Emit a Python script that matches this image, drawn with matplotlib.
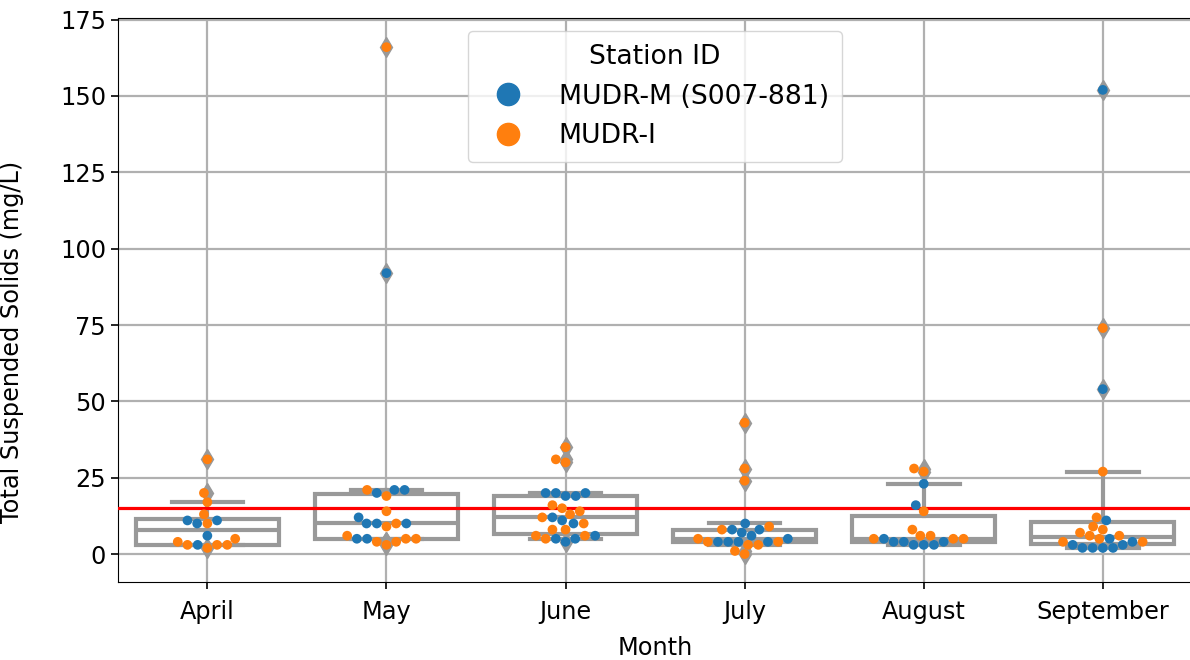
import numpy as np
import pandas as pd
import matplotlib
matplotlib.use("Agg")
import matplotlib.pyplot as plt
from matplotlib.lines import Line2D
import seaborn as sns

months = ["April", "May", "June", "July", "August", "September"]
stations = ["MUDR-M (S007-881)", "MUDR-I"]

# TSS samples (mg/L) per month, split by station
tss_mudr_m = {
    "April": [11, 10, 11, 6, 3],
    "May": [92, 21, 21, 20, 12, 10, 10, 10, 5, 5],
    "June": [20, 20, 20, 19, 19, 12, 11, 10, 6, 5, 5, 4],
    "July": [10, 8, 8, 7, 6, 5, 4, 4, 4, 4],
    "August": [23, 16, 5, 4, 4, 4, 3, 3, 3],
    "September": [152, 54, 11, 5, 4, 3, 3, 2, 2, 2, 2],
}
tss_mudr_i = {
    "April": [31, 20, 17, 13, 10, 5, 3, 3, 3, 4, 2],
    "May": [166, 21, 19, 14, 10, 9, 6, 5, 5, 4, 4, 3],
    "June": [35, 31, 30, 16, 15, 14, 13, 12, 10, 8, 8, 6, 6, 5],
    "July": [43, 28, 24, 9, 8, 5, 4, 4, 3, 3, 1, 0],
    "August": [28, 27, 14, 8, 6, 6, 5, 5, 5],
    "September": [74, 27, 12, 9, 8, 7, 6, 6, 5, 4, 4],
}
tss_limit = 15

rows = []
for st, table in zip(stations, [tss_mudr_m, tss_mudr_i]):
    for m in months:
        for v in table[m]:
            rows.append({"Month": m, "TSS": v, "Station ID": st})
df = pd.DataFrame(rows)

plt.rcParams["font.size"] = 17.3

fig = plt.figure(figsize=(11.9, 6.6), dpi=100)
ax = fig.add_axes([0.099, 0.118, 0.903, 0.855])

gray = "#999999"
box_data = [df.loc[df.Month == m, "TSS"].values for m in months]
ax.boxplot(box_data, positions=range(len(months)), widths=0.8, whis=(10, 90),
           patch_artist=True,
           boxprops=dict(facecolor="white", edgecolor=gray, lw=3),
           medianprops=dict(color=gray, lw=3),
           whiskerprops=dict(color=gray, lw=3),
           capprops=dict(color=gray, lw=3),
           flierprops=dict(marker="d", markerfacecolor=gray,
                           markeredgecolor=gray, markersize=10))

ax.axhline(tss_limit, color="red", lw=2.3, zorder=3)

sns.swarmplot(data=df, x="Month", y="TSS", hue="Station ID", order=months,
              hue_order=stations, palette=["#1f77b4", "#ff7f0e"], size=7,
              ax=ax, zorder=4, legend=False)

# seaborn switches the grid off on the categorical axis; put it back
ax.grid(True, axis="both", color="#b0b0b0", lw=1.6)
ax.set_axisbelow(True)

ax.set_xlim(-0.5, 5.5)
ax.set_ylim(-9.2, 175.6)
ax.set_yticks(np.arange(0, 176, 25))
ax.set_xticks(range(len(months)))
ax.set_xticklabels(months)
ax.tick_params(length=5, width=1.2)
ax.tick_params(axis="x", pad=8)
ax.set_xlabel("Month")
ax.set_ylabel("Total Suspended Solids (mg/L)")
ax.xaxis.set_label_coords(0.5, -0.095)
ax.yaxis.set_label_coords(-0.087, 0.425)

handles = [Line2D([], [], ls="", marker="o", markersize=16, color=c)
           for c in ["#1f77b4", "#ff7f0e"]]
ax.legend(handles, stations, title="Station ID", loc="upper center",
          fontsize=19.2, title_fontsize=19.2, borderpad=0.5,
          labelspacing=0.5, handletextpad=0.9)

fig.savefig("out.png", dpi=100)
